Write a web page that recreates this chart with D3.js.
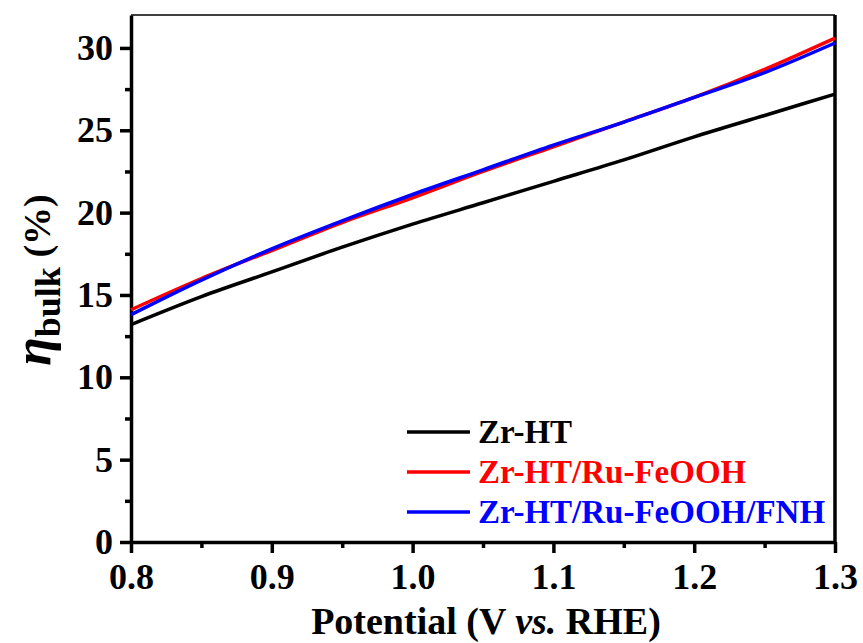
<!DOCTYPE html>
<html>
<head>
<meta charset="utf-8">
<script src="https://cdn.jsdelivr.net/npm/d3@7"></script>
</head>
<body style="margin:0">
<div id="chart"></div>
<script>
// potential (V vs. RHE)
var potential = [0.80, 0.85, 0.90, 0.95, 1.00, 1.05, 1.10, 1.15, 1.20, 1.25, 1.30];
var zrHT = [13.2, 14.9, 16.4, 17.9, 19.3, 20.6, 21.9, 23.2, 24.6, 25.9, 27.2];
var zrHTRu = [14.1, 16.0, 17.7, 19.4, 20.9, 22.5, 24.0, 25.5, 27.0, 28.7, 30.6];
var zrHTRuFnh = [13.8, 15.9, 17.8, 19.5, 21.1, 22.6, 24.1, 25.5, 27.0, 28.5, 30.3];

var seriesNames = ["Zr-HT", "Zr-HT/Ru-FeOOH", "Zr-HT/Ru-FeOOH/FNH"];
var seriesColors = ["#000000", "#ff0000", "#0000ff"];
var xTicks = [0.8, 0.9, 1.0, 1.1, 1.2, 1.3];
var yTicks = [0, 5, 10, 15, 20, 25, 30];

var serif = "Times New Roman";

var margin = { top: 15, right: 28, bottom: 101, left: 131 },
    width = 863 - margin.left - margin.right,
    height = 643 - margin.top - margin.bottom;

var svg = d3.select("#chart").append("svg")
    .attr("width", 863)
    .attr("height", 643);

var g = svg.append("g")
    .attr("transform", "translate(" + margin.left + "," + margin.top + ")");

var x = d3.scaleLinear().domain([0.8, 1.3]).range([0, width]);
var y = d3.scaleLinear().domain([0, 32]).range([height, 0]);

// minor ticks first so major ones sit on top
var xMinor = d3.range(0.85, 1.3, 0.1);
var yMinor = d3.range(2.5, 32, 5);

g.append("g")
    .attr("transform", "translate(0," + height + ")")
    .call(d3.axisBottom(x).tickValues(xMinor).tickSize(6).tickFormat(""))
    .call(function(a) { a.select(".domain").remove(); a.selectAll("line").attr("stroke-width", 3.5); });

g.append("g")
    .call(d3.axisLeft(y).tickValues(yMinor).tickSize(6).tickFormat(""))
    .call(function(a) { a.select(".domain").remove(); a.selectAll("line").attr("stroke-width", 3.5); });

var xAxis = g.append("g")
    .attr("transform", "translate(0," + height + ")")
    .call(d3.axisBottom(x).tickValues(xTicks).tickSize(11).tickSizeOuter(0).tickPadding(10).tickFormat(d3.format(".1f")));
xAxis.attr("font-family", null).attr("font-size", null);
xAxis.select(".domain").attr("stroke-width", 3.5);
xAxis.selectAll("line").attr("stroke-width", 3.5);
xAxis.selectAll("text")
    .attr("font-family", serif).attr("font-weight", "bold")
    .attr("font-size", 36).attr("fill", "#000");

var yAxis = g.append("g")
    .call(d3.axisLeft(y).tickValues(yTicks).tickSize(11).tickSizeOuter(0).tickPadding(7));
yAxis.attr("font-family", null).attr("font-size", null);
yAxis.select(".domain").attr("stroke-width", 3.5);
yAxis.selectAll("line").attr("stroke-width", 3.5);
yAxis.selectAll("text")
    .attr("font-family", serif).attr("font-weight", "bold")
    .attr("font-size", 36).attr("fill", "#000");

// frame: thin top, thick right
g.append("line")
    .attr("x1", 0).attr("x2", width)
    .attr("y1", 0).attr("y2", 0)
    .attr("stroke", "#000").attr("stroke-width", 1.5);
g.append("line")
    .attr("x1", width).attr("x2", width)
    .attr("y1", 0).attr("y2", height)
    .attr("stroke", "#000").attr("stroke-width", 3.5);

var line = d3.line()
    .x(function(d) { return x(d[0]); })
    .y(function(d) { return y(d[1]); })
    .curve(d3.curveMonotoneX);

var allSeries = [zrHT, zrHTRu, zrHTRuFnh];
allSeries.forEach(function(vals, i) {
    var pts = potential.map(function(p, j) { return [p, vals[j]]; });
    g.append("path")
        .datum(pts)
        .attr("fill", "none")
        .attr("stroke", seriesColors[i])
        .attr("stroke-width", 3.5)
        .attr("d", line);
});

// legend
var legend = g.append("g")
    .attr("transform", "translate(" + (407 - margin.left) + "," + (432 - margin.top) + ")");
seriesNames.forEach(function(name, i) {
    legend.append("line")
        .attr("x1", 0).attr("x2", 63)
        .attr("y1", i * 40).attr("y2", i * 40)
        .attr("stroke", seriesColors[i])
        .attr("stroke-width", 3.5);
    legend.append("text")
        .attr("x", 71)
        .attr("y", i * 40 + 11)
        .attr("font-family", serif)
        .attr("font-weight", "bold")
        .attr("font-size", 33)
        .attr("fill", seriesColors[i])
        .text(name);
});

// x axis title
var xt = svg.append("text")
    .attr("x", margin.left + width / 2 + 3)
    .attr("y", 634)
    .attr("text-anchor", "middle")
    .attr("font-family", serif)
    .attr("font-weight", "bold")
    .attr("font-size", 38);
xt.append("tspan").text("Potential (V ");
xt.append("tspan").attr("font-style", "italic").text("vs.");
xt.append("tspan").text(" RHE)");

// y axis title
var yt = svg.append("text")
    .attr("transform", "translate(50,280) rotate(-90)")
    .attr("text-anchor", "middle")
    .attr("font-family", serif)
    .attr("font-weight", "bold");
yt.append("tspan").attr("font-style", "italic").attr("font-size", 52).text("η");
yt.append("tspan").attr("font-size", 36).attr("dy", 10).text("bulk");
yt.append("tspan").attr("font-size", 38).attr("dy", -10).text(" (%)");
</script>
</body>
</html>
